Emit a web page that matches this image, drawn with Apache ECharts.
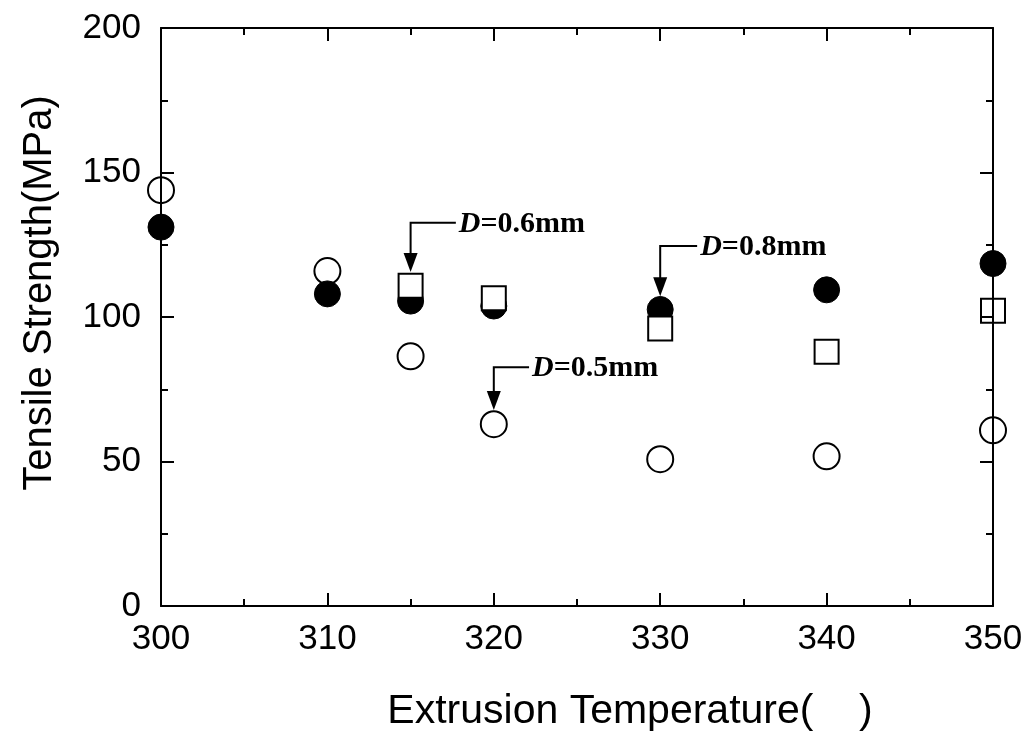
<!DOCTYPE html>
<html>
<head>
<meta charset="utf-8">
<script src="https://cdn.jsdelivr.net/npm/echarts@6/dist/echarts.min.js"></script>
<style>
html,body{margin:0;padding:0;background:#fff;}
#chart{width:1026px;height:737px;}
</style>
</head>
<body>
<div id="chart"></div>
<script>
// ---- data ----
const tempOpen = [300, 310, 315, 320, 330, 340, 350];          // D=0.5mm (open circles)
const strengthOpen = [143.9, 115.9, 86.4, 62.9, 50.8, 51.8, 60.8];
const tempFilled = [300, 310, 315, 320, 330, 340, 350];        // D=0.8mm (filled circles)
const strengthFilled = [131.1, 108.0, 105.5, 103.8, 102.6, 109.4, 118.5];
const tempSquare = [315, 320, 330, 340, 350];                  // D=0.6mm (open squares)
const strengthSquare = [110.8, 106.5, 96.0, 88.0, 102.2];

const xTicks = [300, 310, 320, 330, 340, 350];
const yTicks = [0, 50, 100, 150, 200];

// annotations: target x, leader line value, arrow tip value, text start x, label
const annX = [315, 320, 330];
const annLineY = [132.6, 82.6, 124.6];
const annTipY = [115.6, 67.8, 107.2];
const annTextX = [317.9, 322.3, 332.4];
const annText = ['=0.6mm', '=0.5mm', '=0.8mm'];

const chart = echarts.init(document.getElementById('chart'));

const pair = (xs, ys) => xs.map((x, i) => [x, ys[i]]);
const annData = annX.map((x, i) => [x, annLineY[i], annTipY[i], annTextX[i], i]);

const tickStyle = {show: true, inside: true, length: 13, lineStyle: {color: '#000', width: 2}};
const minorStyle = {show: true, splitNumber: 2, length: 7, lineStyle: {color: '#000', width: 2}};
const lineStyle = {show: true, onZero: false, lineStyle: {color: '#000', width: 2}};
const labelFont = {color: '#000', fontSize: 35, fontFamily: 'Liberation Sans, Arial, sans-serif'};

const xBase = {
  type: 'value', min: xTicks[0], max: xTicks[xTicks.length - 1], interval: 10,
  axisLine: lineStyle, axisTick: tickStyle, minorTick: minorStyle,
  splitLine: {show: false}, z: 10
};
const yBase = {
  type: 'value', min: yTicks[0], max: yTicks[yTicks.length - 1], interval: 50,
  axisLine: lineStyle, axisTick: tickStyle, minorTick: minorStyle,
  splitLine: {show: false}, z: 10
};

chart.setOption({
  animation: false,
  backgroundColor: '#fff',
  grid: {left: 161, right: 33, top: 28, bottom: 131, containLabel: false},
  xAxis: [
    Object.assign({}, xBase, {position: 'bottom', axisLabel: Object.assign({margin: 16}, labelFont)}),
    Object.assign({}, xBase, {position: 'top', axisLabel: {show: false}})
  ],
  yAxis: [
    Object.assign({}, yBase, {position: 'left', axisLabel: Object.assign({margin: 20}, labelFont)}),
    Object.assign({}, yBase, {position: 'right', axisLabel: {show: false}})
  ],
  series: [
    {
      name: 'D=0.5mm', type: 'scatter', data: pair(tempOpen, strengthOpen),
      symbol: 'circle', symbolSize: 26,
      itemStyle: {color: '#fff', borderColor: '#000', borderWidth: 2, opacity: 1}, z: 2
    },
    {
      name: 'D=0.8mm', type: 'scatter', data: pair(tempFilled, strengthFilled),
      symbol: 'circle', symbolSize: 26,
      itemStyle: {color: '#000', borderColor: '#000', borderWidth: 1, opacity: 1}, z: 3
    },
    {
      name: 'D=0.6mm', type: 'scatter', data: pair(tempSquare, strengthSquare),
      symbol: 'rect', symbolSize: 24,
      itemStyle: {color: '#fff', borderColor: '#000', borderWidth: 2, opacity: 1}, z: 4
    },
    {
      type: 'custom', data: annData, z: 5, silent: true, clip: false,
      renderItem: function (params, api) {
        const x = api.value(0), yl = api.value(1), yt = api.value(2), xt = api.value(3), idx = api.value(4);
        const p = api.coord([x, yl]);
        const t = api.coord([x, yt]);
        const s = api.coord([xt, yl]);
        return {
          type: 'group',
          children: [
            {type: 'polyline', shape: {points: [[s[0] - 3, p[1]], [p[0], p[1]], [p[0], t[1] - 17]]},
             style: {stroke: '#000', lineWidth: 2, fill: null}},
            {type: 'polygon', shape: {points: [[p[0] - 7, t[1] - 19], [p[0] + 7, t[1] - 19], [p[0], t[1]]]},
             style: {fill: '#000'}},
            {type: 'text', x: s[0], y: p[1] + 1,
             style: {
               text: '{i|D}{b|' + annText[idx] + '}',
               verticalAlign: 'middle', align: 'left',
               rich: {
                 i: {fontFamily: 'Liberation Serif, Times New Roman, serif', fontStyle: 'italic', fontWeight: 'bold', fontSize: 30, fill: '#000'},
                 b: {fontFamily: 'Liberation Serif, Times New Roman, serif', fontWeight: 'bold', fontSize: 30, fill: '#000'}
               }
             }}
          ]
        };
      }
    }
  ],
  graphic: [
    {type: 'text', x: 630, y: 712,
     style: {text: 'Extrusion Temperature(    )', fill: '#000', fontSize: 41, fontFamily: 'Liberation Sans, Arial, sans-serif', align: 'center', verticalAlign: 'middle'}},
    {type: 'text', x: 40, y: 293, rotation: Math.PI / 2,
     style: {text: 'Tensile Strength(MPa)', fill: '#000', fontSize: 40, fontFamily: 'Liberation Sans, Arial, sans-serif', align: 'center', verticalAlign: 'middle'}}
  ]
});
</script>
</body>
</html>
